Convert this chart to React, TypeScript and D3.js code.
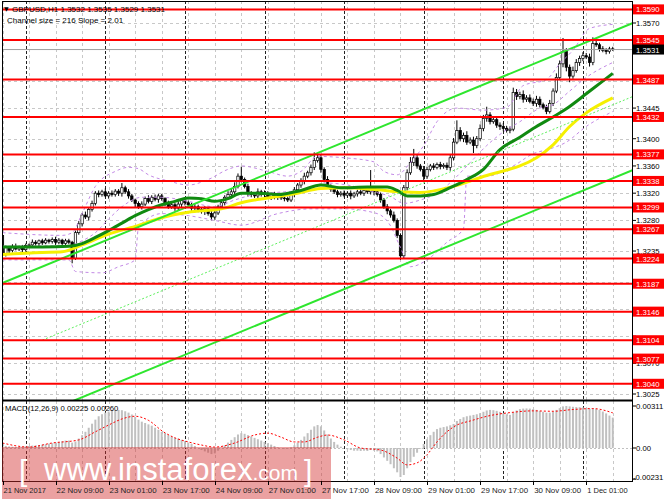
import React from "react";
import * as d3 from "d3";

// ---------- DATA ----------
const headerText = "GBPUSD,H1  1.3532 1.3535 1.3529 1.3531";
const channelText = "Channel size = 216 Slope = 2.01";
const macdText = "MACD(12,26,9) 0.00225 0.00260";

// closes in pips above 1.3000, one per H1 bar (21 Nov 17:00 -> 1 Dec 09:00)
const firstOpen = 258;
const closePips = [
  230, 240, 236, 242, 238, 241, 237, 243, 244, 248, 246, 250, 247, 251, 249, 252, 248, 251, 246, 250,
  248, 224, 262, 275, 288, 285, 296, 305, 320, 318, 322, 316, 320, 318, 323, 320, 328, 322, 316, 310,
  305, 300, 304, 312, 308, 314, 311, 316, 312, 305, 300, 303, 298, 304, 309, 306, 303, 298, 300, 296,
  293, 297, 290, 285, 291, 300, 306, 314, 318, 322, 330, 345, 340, 330, 320, 318, 316, 322, 318, 320,
  315, 318, 314, 316, 313, 312, 310, 318, 325, 332, 338, 345, 350, 358, 368, 372, 355, 340, 330, 326,
  322, 318, 320, 317, 320, 316, 319, 322, 320, 324, 322, 326, 322, 318, 310, 300, 294, 288, 280, 258,
  228, 328, 350, 365, 372, 360, 355, 345, 355, 360, 358, 362, 359, 361, 358, 372, 395, 412, 400, 405,
  395, 398, 390, 400, 415, 430, 435, 425, 428, 420, 418, 415, 412, 414, 468, 462, 465, 458, 460, 455,
  452, 458, 450, 446, 440, 452, 470, 490, 510, 528, 505, 492, 500, 512, 518, 522, 520, 512, 540, 538,
  532, 530, 528, 532, 531,
];
const wickUp = [
  4, 3, 2, 3, 4, 2, 3, 3, 2, 4, 3, 2, 3, 3, 2, 3, 4, 3, 2, 3, 3,
  2, 3,
  4, 3, 5, 3, 4, 3, 4, 3, 5, 3, 4, 3, 3,
  7,
  3, 4, 3, 2, 3, 4, 3, 5, 3, 4, 3, 3, 2, 4, 3, 3, 4, 3, 5, 3, 3, 4, 3, 3, 4, 3, 5, 4, 3, 4, 3, 5, 4, 6, 4,
  14,
  3, 4, 3, 3, 5, 3, 4, 3, 3, 4, 3, 3, 4, 3, 3, 4, 3, 4, 5, 3, 4,
  12, 6,
  4, 3, 5, 3, 4, 3, 3, 4, 3, 4, 3, 3, 5, 3, 4,
  28,
  3, 4, 3, 3, 4, 3, 5, 3, 3,
  4, 5, 8, 13,
  4, 3, 5, 4, 3, 4, 3, 4, 3, 4, 5, 6,
  15,
  5, 4, 6, 4, 5, 4, 6, 5,
  12,
  4, 5, 3, 4, 5, 4, 4,
  7,
  5, 4, 6, 4, 5, 4, 5, 4, 3, 4, 5, 4, 6, 5,
  20,
  5, 4, 6, 5, 4, 5, 4, 5,
  9,
  4, 3, 4, 3, 3,
  3,
];
const wickDown = [
  5, 3, 4, 3, 2, 3, 4, 3, 3, 2, 3, 4, 3, 2, 3, 3, 4, 3, 3, 2, 3,
  7, 2,
  3, 4, 3, 5, 3, 3, 4, 3, 2, 4, 3, 3, 4, 5, 3, 4, 3, 6, 3, 4, 3, 3, 4, 3, 5, 3, 4, 3, 3, 4, 3, 5, 4, 3, 4, 3, 4, 3, 5, 3,
  5,
  4, 3, 3, 4, 3, 3, 4, 3, 4, 3, 5, 4, 3, 4, 3, 4, 3, 5, 3, 4, 3, 4, 3, 3, 4, 3, 4, 5, 3, 4, 4, 3, 5, 4, 3, 4, 3, 4, 3, 3, 4, 5, 3, 4, 3, 4, 3, 4, 5, 3, 4, 3, 5, 4, 3, 4,
  6, 4,
  4, 3, 5, 4, 3,
  7,
  4, 3, 4, 3, 4, 3, 4, 5, 4, 3, 4, 5, 4, 3,
  11,
  4, 3, 4, 5, 4, 3, 4, 5, 4, 3, 4, 3, 5, 4, 5, 4, 3, 4, 5, 4, 3,
  4,
  3, 4, 3, 4, 5, 6,
  9,
  4, 3, 5, 4, 3, 6, 4, 3, 4, 3, 4, 3,
  2,
];

// moving averages and Bollinger bands, read at bar indices [bar, price]
const maGreen: [number, number][] = [
  [0, 1.3241], [12, 1.3241], [20, 1.3242], [24, 1.3246], [28, 1.3255], [32, 1.3265], [36, 1.3276],
  [40, 1.3287], [44, 1.3296], [48, 1.3303], [52, 1.3308], [56, 1.3313], [60, 1.3312], [64, 1.3308],
  [68, 1.3312], [72, 1.332], [77, 1.332], [83, 1.3318], [90, 1.3324], [96, 1.3332], [102, 1.3328],
  [110, 1.3329], [116, 1.3329], [119, 1.3324], [122, 1.3316], [126, 1.3316], [130, 1.3318],
  [135, 1.3328], [140, 1.334], [145, 1.3355], [150, 1.3384], [156, 1.3402], [160, 1.3415],
  [166, 1.3432], [170, 1.3444], [176, 1.3466], [180, 1.3481], [184, 1.3496],
];
const maYellow: [number, number][] = [
  [0, 1.323], [12, 1.3233], [18, 1.3234], [24, 1.3244], [32, 1.326], [40, 1.3271], [48, 1.3284],
  [56, 1.3292], [66, 1.3297], [72, 1.3306], [80, 1.3313], [88, 1.3319], [96, 1.3327], [103, 1.3328],
  [113, 1.3325], [120, 1.3322], [126, 1.3321], [136, 1.333], [146, 1.3346], [152, 1.3354],
  [156, 1.336], [161, 1.3372], [166, 1.3391], [171, 1.3418], [176, 1.3438], [184, 1.346],
];
const bbUpper: [number, number][] = [
  [0, 1.3262], [18, 1.3258], [21, 1.3262], [24, 1.329], [28, 1.333], [34, 1.3352], [38, 1.3358],
  [41, 1.3356], [44, 1.3347], [50, 1.3338], [56, 1.3332], [62, 1.334], [68, 1.3355], [72, 1.336],
  [80, 1.3352], [86, 1.3345], [90, 1.3352], [95, 1.3374], [103, 1.3372], [112, 1.3366], [115, 1.3352],
  [119, 1.3347], [123, 1.3365], [127, 1.339], [131, 1.3425], [137, 1.3445], [145, 1.3442],
  [152, 1.3446], [157, 1.3478], [164, 1.3487], [168, 1.351], [172, 1.353], [177, 1.3562], [184, 1.3568],
];
const bbMiddle: [number, number][] = [
  [0, 1.3242], [20, 1.3243], [24, 1.325], [28, 1.3262], [32, 1.3282], [36, 1.33], [42, 1.3314],
  [48, 1.3314], [56, 1.3308], [64, 1.33], [70, 1.331], [76, 1.3318], [85, 1.3322], [92, 1.3325],
  [97, 1.3335], [104, 1.3332], [112, 1.3322], [117, 1.3315], [121, 1.3305], [126, 1.331],
  [131, 1.332], [136, 1.334], [141, 1.3365], [146, 1.339], [151, 1.341], [156, 1.3425],
  [162, 1.3445], [166, 1.345], [171, 1.347], [176, 1.349], [184, 1.3512],
];
const bbLower: [number, number][] = [
  [0, 1.3222], [20, 1.3222], [22, 1.3205], [30, 1.3203], [35, 1.3212], [40, 1.3222], [41, 1.327],
  [48, 1.329], [56, 1.3287], [64, 1.328], [72, 1.3273], [83, 1.329], [93, 1.3297], [103, 1.3297],
  [113, 1.329], [117, 1.3272], [120, 1.324], [123, 1.3212], [128, 1.3222], [134, 1.3248],
  [139, 1.3268], [140, 1.3345], [146, 1.3345], [154, 1.336], [160, 1.3378], [165, 1.3385],
  [170, 1.3395], [176, 1.3418], [184, 1.344],
];

// regression channel
const channelStart = 1.3188; // upper line at bar 0
const channelSlope = 0.000201; // per bar
const channelSize = 0.0216;

// horizontal levels
const levels = [1.359, 1.3545, 1.3487, 1.3432, 1.3377, 1.3338, 1.3299, 1.3267, 1.3224, 1.3187, 1.3146, 1.3104, 1.3077, 1.304];
const currentPrice = 1.3531;
// price grid ticks; labels shown only where not covered by the level boxes
const priceTicks = [1.357, 1.3485, 1.3445, 1.34, 1.336, 1.332, 1.328, 1.3235, 1.319, 1.315, 1.311, 1.307, 1.3025];
const priceTickLabels = [1.357, 1.3445, 1.34, 1.336, 1.332, 1.328, 1.3235, 1.307, 1.3025];

// MACD main (x 1e-5) per bar
const macdMain = [
  20, 15, 12, 10, 8, 8, 10, 12, 15, 18, 20, 22, 25, 28,
  32, 36, 40, 45, 50, 55, 55, 40, 48,
  70, 95, 120, 150, 180, 210,
  235, 250, 262, 270, 275, 280, 282, 280, 272, 262, 248, 230,
  210, 195, 185, 175, 165, 150, 135, 120, 110, 95, 85, 75, 70, 60, 50, 40, 30,
  15, 0, -15, -25, -35, -45, -40,
  -20, 0, 20, 40, 60, 80, 100, 110,
  105, 95, 85, 75, 65, 55, 45, 35,
  25, 15, 5, 0, -5, -5, 5,
  20, 40, 60, 85, 110, 135, 160, 170,
  160, 130, 100, 70, 45, 25, 10,
  0, -10, -15, -20, -20, -22, -20, -22, -15, -20, -25,
  -45, -70, -95, -120, -150, -180, -215, -200, -150, -105, -65, -35,
  -5, 30, 65, 95, 120, 140, 150, 155, 160, 168, 178,
  200, 215, 228, 235, 240, 245, 250, 258, 268, 278, 282, 280, 275, 268, 258, 250, 245,
  265, 278, 288, 292, 293, 292, 288, 282, 275, 268, 262, 262, 270, 282,
  295, 308, 311, 308, 305, 303, 302, 300, 296, 290, 292, 290, 282, 270, 256, 240, 225,
];
const macdSignal: [number, number][] = [
  [0, 37], [8, 7], [15, 37], [23, 60], [28, 120], [32, 170], [36, 215], [40, 235], [44, 205],
  [48.5, 120], [52, 75], [56, 45], [60, 22], [64, 7], [70, 37], [76, 96], [80, 110], [84, 80],
  [88, 45], [91, 45], [95, 80], [98, 96], [103, 60], [108, 0], [114, -15], [119, -75], [122, -125],
  [125, -110], [128, -50], [131, 45], [134, 120], [137, 170], [141, 200], [147, 240], [153, 262],
  [160, 275], [166, 272], [172, 285], [178, 292], [184, 260],
];
const macdTicks: [number, string][] = [[0.00311, "0.00311"], [0, "0.00"], [-0.00231, "-0.00231"]];

const timeLabels: [number, string][] = [
  [0, "21 Nov 2017"], [16, "22 Nov 09:00"], [32, "23 Nov 01:00"], [48, "23 Nov 17:00"],
  [64, "24 Nov 09:00"], [80, "27 Nov 01:00"], [96, "27 Nov 17:00"], [112, "28 Nov 09:00"],
  [128, "29 Nov 01:00"], [144, "29 Nov 17:00"], [160, "30 Nov 09:00"], [176, "1 Dec 01:00"],
];
const daySeparators = [7, 31, 55, 79, 103, 127, 151, 175];

// ---------- CHART ----------
const FONT = "'Liberation Sans', Arial, sans-serif";
const L = 2, R = 632, TOP = 1, MAIN_B = 400, MACD_T = 401, MACD_B = 481;

export default function App() {
  const x = d3.scaleLinear().domain([0, 189.8]).range([2.5, 632]);
  const y = d3.scaleLinear().domain([1.3025, 1.357]).range([394, 23]);
  const ym = d3.scaleLinear().domain([0, 0.00311]).range([448, 406]);
  const curve = d3.line<[number, number]>().x((d) => x(d[0])).y((d) => y(d[1])).curve(d3.curveMonotoneX);
  const straight = d3.line<[number, number]>().x((d) => x(d[0])).y((d) => y(d[1]));
  const sig = d3.line<[number, number]>().x((d) => x(d[0])).y((d) => ym(d[1] / 1e5)).curve(d3.curveMonotoneX);

  const grid8 = d3.range(0, 190, 8);
  const p = (v: number) => 1.3 + v / 10000;

  const candles = closePips.map((c, i) => {
    const o = i === 0 ? firstOpen : closePips[i - 1];
    const hi = Math.max(o, c) + (wickUp[i] ?? 3);
    const lo = Math.min(o, c) - (wickDown[i] ?? 3);
    return { i, o, c, hi, lo };
  });

  const chEnd = 195;
  const upperCh: [number, number][] = [[0, channelStart], [chEnd, channelStart + channelSlope * chEnd]];
  const lowerCh: [number, number][] = upperCh.map((d) => [d[0], d[1] - channelSize] as [number, number]);
  const midCh: [number, number][] = [[12, channelStart + channelSlope * 12 - channelSize / 2], [chEnd, channelStart + channelSlope * chEnd - channelSize / 2]];

  return (
    <div>
      <style>{"body{margin:0;background:#fff}"}</style>
      <svg width={665} height={499} style={{ display: "block", fontFamily: FONT }}>
        <defs>
          <clipPath id="mainClip"><rect x={L} y={TOP} width={R - L} height={MAIN_B - TOP} /></clipPath>
          <clipPath id="macdClip"><rect x={L} y={MACD_T} width={R - L} height={MACD_B - MACD_T} /></clipPath>
        </defs>
        <rect width={665} height={499} fill="#fff" />

        {/* main panel grid */}
        <g clipPath="url(#mainClip)">
          {priceTicks.map((t) => (
            <line key={"h" + t} x1={L} x2={R} y1={Math.round(y(t)) + 0.5} y2={Math.round(y(t)) + 0.5} stroke="#c8c8c8" strokeDasharray="3,3" />
          ))}
          {grid8.map((g) => (
            <line key={"v" + g} x1={Math.round(x(g)) + 0.5} x2={Math.round(x(g)) + 0.5} y1={TOP} y2={MAIN_B} stroke="#c8c8c8" strokeDasharray="3,3" />
          ))}
          {daySeparators.map((g) => (
            <line key={"d" + g} x1={Math.round(x(g)) + 0.5} x2={Math.round(x(g)) + 0.5} y1={TOP} y2={MAIN_B} stroke="#222" strokeDasharray="3,2" />
          ))}

          {/* candles */}
          {candles.map((k) => {
            const cx = x(k.i);
            const bull = k.c >= k.o;
            const yTop = y(p(Math.max(k.o, k.c)));
            const yBot = y(p(Math.min(k.o, k.c)));
            return (
              <g key={"c" + k.i}>
                <line x1={cx} x2={cx} y1={y(p(k.hi))} y2={y(p(k.lo))} stroke="#000" strokeWidth={1} />
                <rect x={cx - 1.2} y={yTop} width={2.4} height={Math.max(yBot - yTop, 0.8)} fill={bull ? "#fff" : "#000"} stroke="#000" strokeWidth={0.7} />
              </g>
            );
          })}

          {/* bollinger bands */}
          {[bbUpper, bbMiddle, bbLower].map((b, j) => (
            <path key={"bb" + j} d={curve(b) ?? ""} fill="none" stroke="#c38ae6" strokeWidth={1} strokeDasharray="3,3" />
          ))}

          {/* moving averages */}
          <path d={curve(maYellow) ?? ""} fill="none" stroke="#f5f000" strokeWidth={3} />
          <path d={curve(maGreen) ?? ""} fill="none" stroke="#108a10" strokeWidth={3} />

          {/* channel */}
          <path d={straight(upperCh) ?? ""} stroke="#2ee62e" strokeWidth={2} fill="none" />
          <path d={straight(lowerCh) ?? ""} stroke="#2ee62e" strokeWidth={2} fill="none" />
          <path d={straight(midCh) ?? ""} stroke="#5ef05e" strokeWidth={1} strokeDasharray="2,2" fill="none" />

          {/* current price line */}
          <line x1={L} x2={R} y1={y(currentPrice)} y2={y(currentPrice)} stroke="#a0a0a0" strokeWidth={1} />

          {/* levels */}
          {levels.map((lv) => (
            <line key={"l" + lv} x1={L} x2={R} y1={y(lv)} y2={y(lv)} stroke="#ff0000" strokeWidth={2} />
          ))}
        </g>

        {/* header texts */}
        <text x={4} y={11} fontSize={6} fill="#000" fontFamily="'DejaVu Sans'">▼</text>
        <text x={12} y={11.5} fontSize={8} fill="#000">{headerText}</text>
        <text x={7} y={23} fontSize={8} fill="#000">{channelText}</text>

        {/* right axis price */}
        {priceTicks.map((t) => (
          <line key={"pk" + t} x1={R} x2={R + 4} y1={y(t)} y2={y(t)} stroke="#000" />
        ))}
        {priceTickLabels.map((t) => (
          <text key={"pt" + t} x={636} y={y(t) + 3} fontSize={7.7} fill="#000">{t.toFixed(4)}</text>
        ))}
        {levels.map((lv) => (
          <g key={"lb" + lv}>
            <rect x={633} y={y(lv) - 5} width={31} height={10} fill="#ff0000" />
            <text x={636} y={y(lv) + 3} fontSize={7.7} fill="#fff">{lv.toFixed(4)}</text>
          </g>
        ))}
        <rect x={633} y={y(currentPrice) - 5} width={31} height={10} fill="#000" />
        <text x={636} y={y(currentPrice) + 3} fontSize={7.7} fill="#fff">{currentPrice.toFixed(4)}</text>

        {/* MACD panel */}
        <g clipPath="url(#macdClip)">
          {grid8.map((g) => (
            <line key={"mv" + g} x1={Math.round(x(g)) + 0.5} x2={Math.round(x(g)) + 0.5} y1={MACD_T} y2={MACD_B} stroke="#c8c8c8" strokeDasharray="3,3" />
          ))}
          {daySeparators.map((g) => (
            <line key={"md" + g} x1={Math.round(x(g)) + 0.5} x2={Math.round(x(g)) + 0.5} y1={MACD_T} y2={MACD_B} stroke="#222" strokeDasharray="3,2" />
          ))}
          <line x1={L} x2={R} y1={ym(0) + 0.5} y2={ym(0) + 0.5} stroke="#c0c0c0" strokeDasharray="2,2" />
          {macdMain.map((v, i) => {
            const y0 = ym(0), y1 = ym(v / 1e5);
            return <rect key={"m" + i} x={x(i) - 1} y={Math.min(y0, y1)} width={2} height={Math.abs(y1 - y0)} fill="#c0c0c0" />;
          })}
          <path d={sig(macdSignal) ?? ""} fill="none" stroke="#ff0000" strokeWidth={1} strokeDasharray="2,2" />
        </g>
        <text x={5} y={411} fontSize={7.7} fill="#000">{macdText}</text>
        {macdTicks.map(([v, s]) => (
          <g key={"mt" + s}>
            <line x1={R} x2={R + 4} y1={ym(v)} y2={ym(v)} stroke="#000" />
            <text x={v < 0 ? 633 : 636} y={Math.min(ym(v) + 3, 480)} fontSize={7.7} fill="#000">{s}</text>
          </g>
        ))}

        {/* borders */}
        <rect x={L + 0.5} y={TOP + 0.5} width={R - L} height={MACD_B - TOP} fill="none" stroke="#000" strokeWidth={1} />
        <line x1={L} x2={R} y1={MAIN_B + 0.5} y2={MAIN_B + 0.5} stroke="#000" strokeWidth={2} />

        {/* watermark */}
        <rect x={2} y={447} width={329} height={52} fill="rgb(211,47,47)" fillOpacity={0.45} />
        <text y={480} fill="#fff" fontFamily="'Liberation Sans', Arial, sans-serif">
          <tspan x={19} y={481} fontSize={30}>[</tspan>
          <tspan x={44} y={480} fontSize={31}>www.instaforex</tspan>
          <tspan fontSize={21}>.com</tspan>
          <tspan x={304} y={481} fontSize={30}>]</tspan>
        </text>

        {/* time axis */}
        {timeLabels.map(([i, s]) => (
          <g key={"t" + i}>
            <line x1={Math.round(x(i)) + 0.5} x2={Math.round(x(i)) + 0.5} y1={MACD_B} y2={MACD_B + 4} stroke="#000" />
            <text x={x(i) + 1} y={493} fontSize={7.5} fill="#222" textLength={s.length >= 12 ? 47 : undefined} lengthAdjust="spacingAndGlyphs">{s}</text>
          </g>
        ))}
      </svg>
    </div>
  );
}
